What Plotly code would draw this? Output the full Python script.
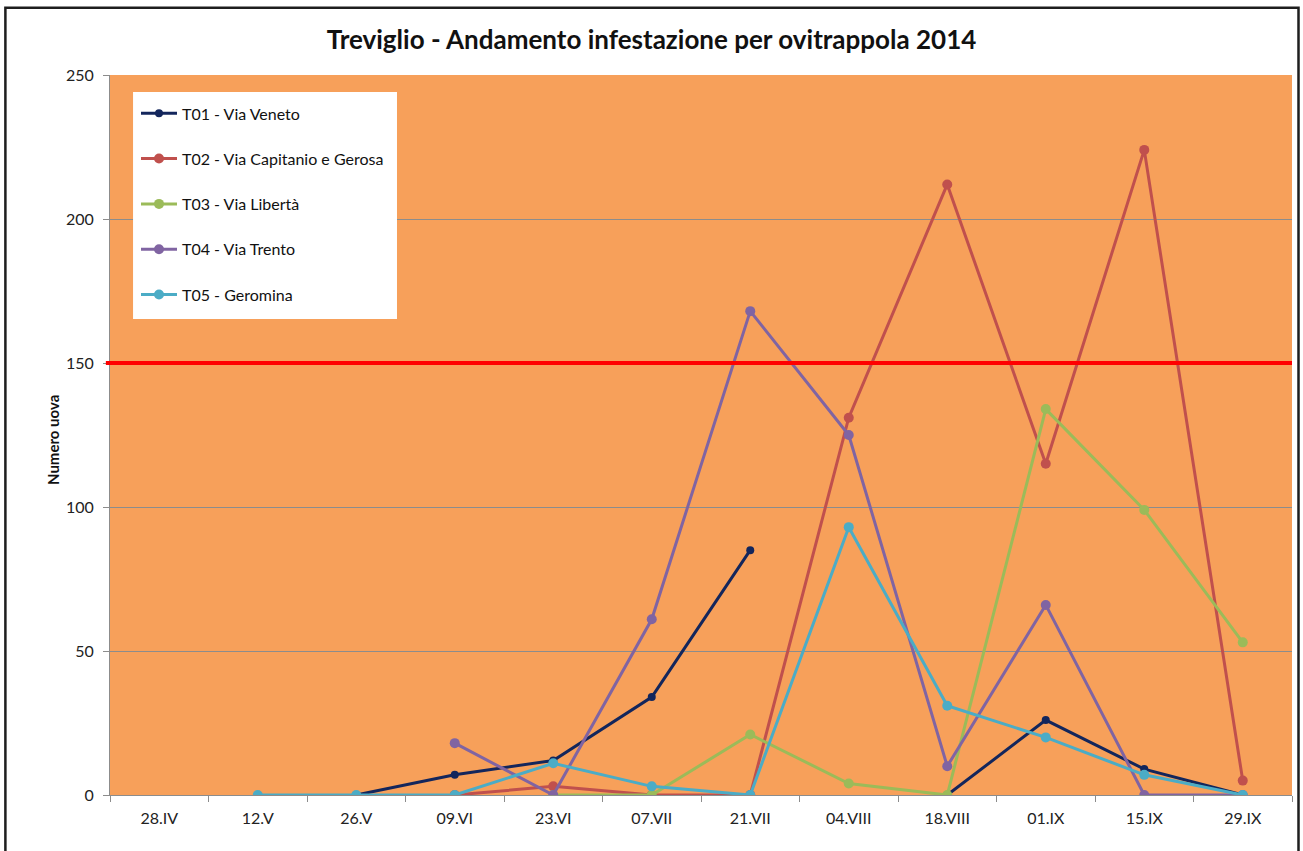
import plotly.graph_objects as go

# Sampling dates (two-week intervals)
dates = ["28.IV", "12.V", "26.V", "09.VI", "23.VI", "07.VII", "21.VII",
         "04.VIII", "18.VIII", "01.IX", "15.IX", "29.IX"]

# Eggs counted per ovitrap
t01 = [None, None, 0, 7, 12, 34, 85, None, 0, 26, 9, 0]
t02 = [None, None, None, 0, 3, 0, 0, 131, 212, 115, 224, 5]
t03 = [None, None, None, None, 0, 0, 21, 4, 0, 134, 99, 53]
t04 = [None, None, None, 18, 0, 61, 168, 125, 10, 66, 0, 0]
t05 = [None, 0, 0, 0, 11, 3, 0, 93, 31, 20, 7, 0]

series_names = ["T01 - Via Veneto", "T02 - Via Capitanio e Gerosa",
                "T03 - Via Libertà", "T04 - Via Trento", "T05 - Geromina"]
series_colors = ["#13265C", "#C0504D", "#9BBB59", "#8064A2", "#4BACC6"]
series_values = [t01, t02, t03, t04, t05]
marker_sizes = [8, 10, 10, 10, 10]

# Alert threshold
threshold = 150

y_ticks = [0, 50, 100, 150, 200, 250]

FONT = "Lato"

fig = go.Figure()
for i, (name, vals, col, ms) in enumerate(zip(series_names, series_values,
                                               series_colors, marker_sizes)):
    fig.add_trace(go.Scatter(
        x=dates, y=vals, name=name, mode="lines+markers",
        line=dict(color=col, width=3),
        marker=dict(color=col, size=ms, symbol="circle"),
        legendgroup=f"g{i}",
        connectgaps=False,
    ))

fig.add_shape(type="line", xref="paper", yref="y",
              x0=-0.0035, x1=1.0, y0=threshold, y1=threshold,
              line=dict(color="#FF0000", width=4), layer="above")

# White legend box, covering the gridlines
fig.add_shape(type="rect", xref="paper", yref="paper",
              x0=0.0195, x1=0.2428, y0=0.6611, y1=0.9764,
              fillcolor="white", line=dict(width=0), layer="above")

# Outer chart frame
fig.add_shape(type="rect", xref="paper", yref="paper",
              x0=-0.0885, x1=1.0055, y0=-0.2, y1=1.0935,
              line=dict(color="#1E1E1E", width=2.5), layer="above")

fig.update_layout(
    width=1303, height=851,
    margin=dict(l=110, r=11, t=75, b=56),
    paper_bgcolor="white",
    plot_bgcolor="#F7A05A",
    font=dict(family=FONT, size=16, color="#222222"),
    title=dict(text="<b>Treviglio - Andamento infestazione per ovitrappola 2014</b>",
               x=0.5, xanchor="center", xref="container", y=0.953, yanchor="middle",
               font=dict(family=FONT, size=26, color="#111111")),
    showlegend=True,
    legend=dict(x=0.022, y=0.9703, xanchor="left", yanchor="top",
                bgcolor="rgba(0,0,0,0)", borderwidth=0,
                font=dict(family=FONT, size=16, color="#111111"),
                tracegroupgap=21.5, itemwidth=36,
                traceorder="grouped"),
    xaxis=dict(type="category", categoryorder="array", categoryarray=dates,
               range=[-0.5, len(dates) - 0.5],
               showgrid=False, zeroline=False,
               showline=True, linecolor="#8C8C8C", linewidth=1,
               ticks="outside", ticklen=6, tickcolor="#8C8C8C",
               tickson="boundaries", ticklabelstandoff=9,
               tickfont=dict(family=FONT, size=16, color="#222222")),
    yaxis=dict(range=[0, 250], tickvals=y_ticks,
               showgrid=True, gridcolor="#8C8C8C", gridwidth=1,
               zeroline=False,
               showline=True, linecolor="#8C8C8C", linewidth=1,
               ticks="outside", ticklen=6, tickcolor="#8C8C8C",
               ticklabelstandoff=6,
               tickfont=dict(family=FONT, size=16, color="#222222")),
)
fig.add_annotation(text="<b>Numero uova</b>", textangle=-90,
                   xref="paper", yref="paper", x=(53 - 110) / 1182, y=(795 - 440) / 720,
                   xanchor="center", yanchor="middle", showarrow=False,
                   font=dict(family=FONT, size=15, color="#111111"))

fig.write_html("out.html")
